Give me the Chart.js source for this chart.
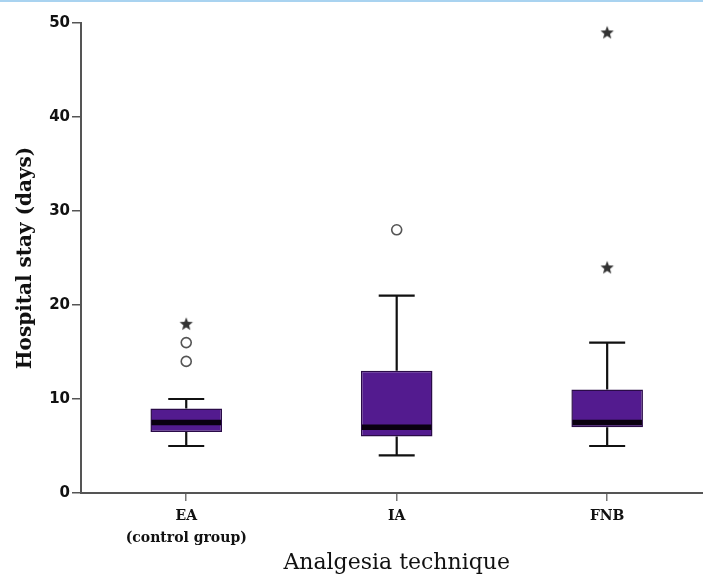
<!DOCTYPE html>
<html>
<head>
<meta charset="utf-8">
<script src="https://cdn.jsdelivr.net/npm/chart.js@4/dist/chart.umd.min.js"></script>
<style>
  html, body { margin: 0; padding: 0; background: #fff; overflow: hidden; }
  body { border-top: 2px solid #a9d3f0; }
  #wrap { width: 719px; height: 582px; }
</style>
</head>
<body>
<div id="wrap"><canvas id="stayChart"></canvas></div>
<script>
(() => {
  'use strict'

  // box plot values per group (days)
  const categories = ['EA', 'IA', 'FNB']
  const subLabels = ['(control group)', '', '']
  const whiskerLow = [5, 4, 5]
  const quartile1 = [6.5, 6, 7]
  const medians = [7.5, 7, 7.5]
  const quartile3 = [9, 13, 11]
  const whiskerHigh = [10, 21, 16]
  // outliers: [group, value]
  const circleOutliers = [['EA', 14], ['EA', 16], ['IA', 28]]
  const starOutliers = [['EA', 18], ['FNB', 24], ['FNB', 49]]
  const yTicks = [0, 10, 20, 30, 40, 50]

  const serif = '"DejaVu Serif", "Liberation Serif", serif'
  const sans = '"DejaVu Sans", sans-serif'

  // filled five-point star used as point style
  const star = document.createElement('canvas')
  star.width = 16
  star.height = 16
  const sc = star.getContext('2d')
  sc.fillStyle = '#333'
  sc.beginPath()
  for (let i = 0; i < 10; i++) {
    const r = i % 2 === 0 ? 7 : 3
    const a = -Math.PI / 2 + i * Math.PI / 5
    const px = 8 + r * Math.cos(a)
    const py = 8.5 + r * Math.sin(a)
    if (i === 0) sc.moveTo(px, py); else sc.lineTo(px, py)
  }
  sc.closePath()
  sc.fill()

  const whiskers = {
    id: 'whiskers',
    beforeDatasetsDraw(chart) {
      const { ctx, scales: { x, y } } = chart
      ctx.save()
      ctx.strokeStyle = '#111'
      ctx.lineWidth = 2.2
      whiskerLow.forEach((lo, i) => {
        const cx = x.getPixelForValue(i)
        const capHalf = 18
        ;[[lo, quartile1[i]], [whiskerHigh[i], quartile3[i]]].forEach(([end, q]) => {
          const ye = y.getPixelForValue(end)
          ctx.beginPath()
          ctx.moveTo(cx, y.getPixelForValue(q))
          ctx.lineTo(cx, ye)
          ctx.moveTo(cx - capHalf, ye)
          ctx.lineTo(cx + capHalf, ye)
          ctx.stroke()
        })
      })
      ctx.restore()
    },
    afterDatasetsDraw(chart) {
      const { ctx, scales: { y } } = chart
      const meta = chart.getDatasetMeta(0)
      ctx.save()
      ctx.strokeStyle = '#0a0010'
      ctx.lineWidth = 5.5
      medians.forEach((m, i) => {
        const bar = meta.data[i]
        const ym = y.getPixelForValue(m)
        ctx.beginPath()
        ctx.moveTo(bar.x - bar.width / 2 + 1, ym)
        ctx.lineTo(bar.x + bar.width / 2 - 1, ym)
        ctx.stroke()
      })
      ctx.restore()
    }
  }

  new Chart(document.getElementById('stayChart'), {
    type: 'bar',
    data: {
      labels: categories,
      datasets: [{
        label: 'IQR',
        data: quartile1.map((q, i) => [q, quartile3[i]]),
        backgroundColor: '#531b8f',
        borderColor: '#2a0b48',
        borderWidth: 1.5,
        borderSkipped: false,
        grouped: false,
        barPercentage: 0.34,
        categoryPercentage: 1
      }, {
        type: 'scatter',
        label: 'outliers',
        data: circleOutliers.map(([g, v]) => ({ x: g, y: v })),
        pointStyle: 'circle',
        pointRadius: 5,
        backgroundColor: '#fff',
        borderColor: '#555',
        borderWidth: 1.6
      }, {
        type: 'scatter',
        label: 'extremes',
        data: starOutliers.map(([g, v]) => ({ x: g, y: v })),
        pointStyle: star
      }]
    },
    options: {
      responsive: true,
      maintainAspectRatio: false,
      animation: false,
      layout: { padding: { top: 21, right: 0, bottom: 5, left: 0 } },
      plugins: {
        legend: { display: false },
        tooltip: { enabled: false }
      },
      scales: {
        x: {
          type: 'category',
          offset: true,
          afterFit(scale) { scale.height = 86 },
          grid: { drawOnChartArea: false, offset: false, tickLength: 8, color: '#777', lineWidth: 1.5 },
          border: { color: '#555', width: 2 },
          ticks: {
            color: '#111',
            padding: 5,
            maxRotation: 0,
            callback(value, i) {
              return subLabels[i] ? [categories[i], subLabels[i]] : categories[i]
            },
            font: { family: serif, size: 14, weight: 'bold', lineHeight: 1.55 }
          },
          title: {
            display: true,
            text: 'Analgesia technique',
            color: '#111',
            padding: { top: 4, bottom: 3 },
            font: { family: serif, size: 22 }
          }
        },
        y: {
          min: 0,
          max: 50,
          afterFit(scale) { scale.width = 81 },
          afterBuildTicks(scale) { scale.ticks = yTicks.map(v => ({ value: v })) },
          grid: { drawOnChartArea: false, tickLength: 9, color: '#555', lineWidth: 1.5 },
          border: { color: '#555', width: 2 },
          ticks: { color: '#111', padding: 2, font: { family: sans, size: 15, weight: 'bold' } },
          title: {
            display: true,
            text: 'Hospital stay (days)',
            color: '#111',
            padding: { top: 14, bottom: 0 },
            font: { family: serif, size: 20, weight: 'bold' }
          }
        }
      }
    },
    plugins: [whiskers]
  })
})()
</script>
</body>
</html>
